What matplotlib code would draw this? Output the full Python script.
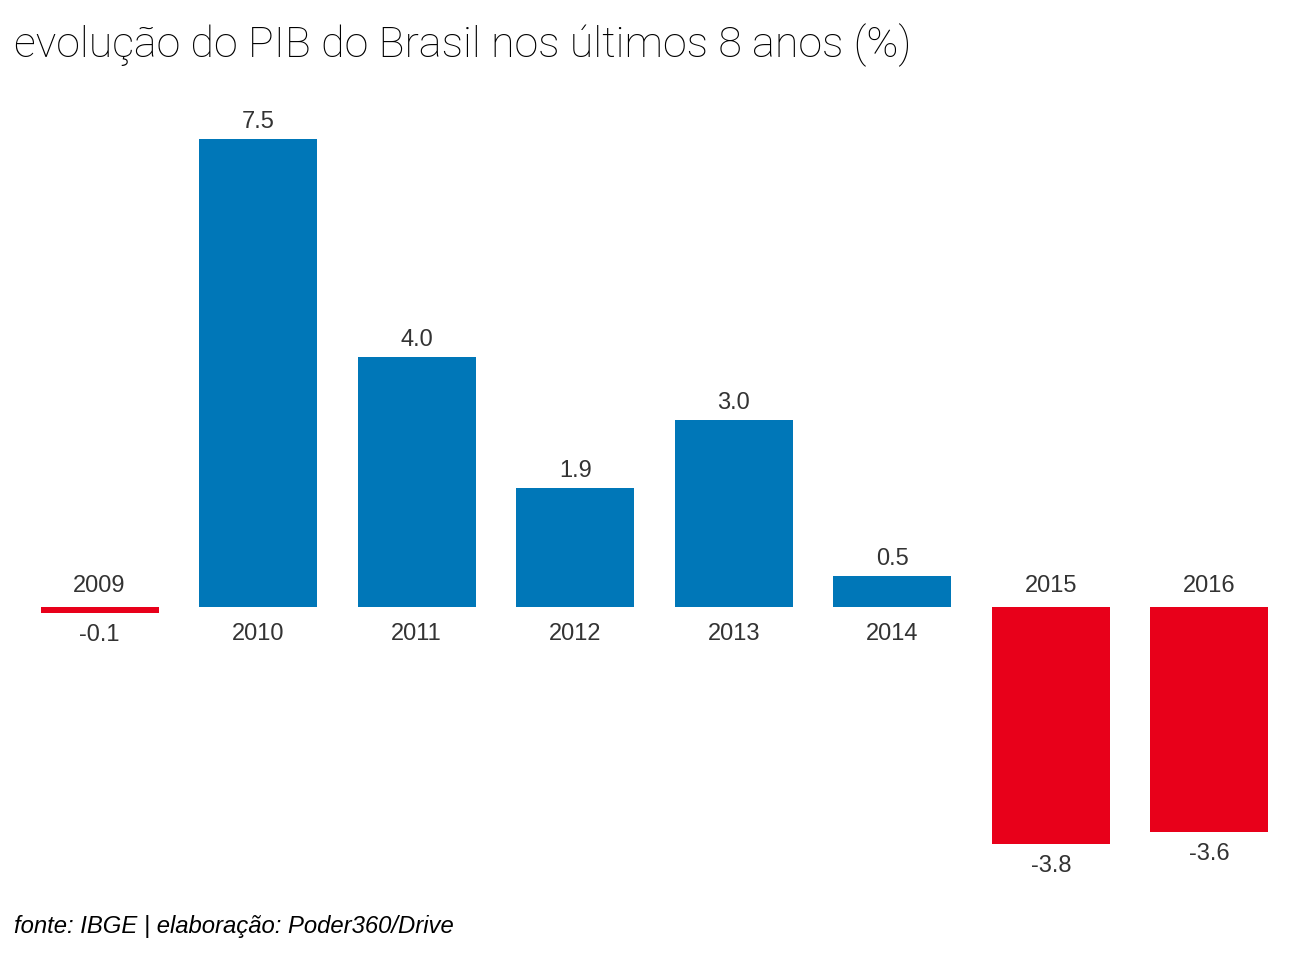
import matplotlib
matplotlib.use("Agg")
import matplotlib.pyplot as plt

years = ["2009", "2010", "2011", "2012", "2013", "2014", "2015", "2016"]
values = [-0.1, 7.5, 4.0, 1.9, 3.0, 0.5, -3.8, -3.6]
value_labels = ["-0.1", "7.5", "4.0", "1.9", "3.0", "0.5", "-3.8", "-3.6"]

BLUE = "#0077B8"
RED = "#E8001A"
TXT = "#333333"

W, H = 1312, 966
fig = plt.figure(figsize=(W / 100, H / 100), dpi=100)
ax = fig.add_axes([0, 0, 1, 1])

pitch = 158.57
unit = 62.4
zero_px = 607
ax.set_xlim(-99.5 / pitch, (W - 99.5) / pitch)
ax.set_ylim(-(H - zero_px) / unit, zero_px / unit)
ax.axis("off")

x = list(range(len(years)))
colors = [BLUE if v >= 0 else RED for v in values]
ax.bar(x, values, width=118 / pitch, color=colors, linewidth=0)

fs = 17
for xi, v, yr, lab in zip(x, values, years, value_labels):
    if v >= 0:
        ax.text(xi, v + 17 / unit, lab, ha="center", va="center", fontsize=fs,
                color=TXT, family="Liberation Sans")
        ax.text(xi, -27 / unit, yr, ha="center", va="center", fontsize=fs,
                color=TXT, family="Liberation Sans")
    else:
        ax.text(xi, v - 22 / unit, lab, ha="center", va="center", fontsize=fs,
                color=TXT, family="Liberation Sans")
        ax.text(xi, 21 / unit, yr, ha="center", va="center", fontsize=fs,
                color=TXT, family="Liberation Sans")

fig.text(14 / W, 1 - 45 / H, "evolução do PIB do Brasil nos últimos 8 anos (%)",
         ha="left", va="center", fontsize=31, color="black",
         family="Roboto", fontweight="light")
fig.text(14 / W, 1 - 926 / H, "fonte: IBGE | elaboração: Poder360/Drive",
         ha="left", va="center", fontsize=17.2, color="black",
         family="Liberation Sans", style="italic")

fig.savefig("out.png", dpi=100)
